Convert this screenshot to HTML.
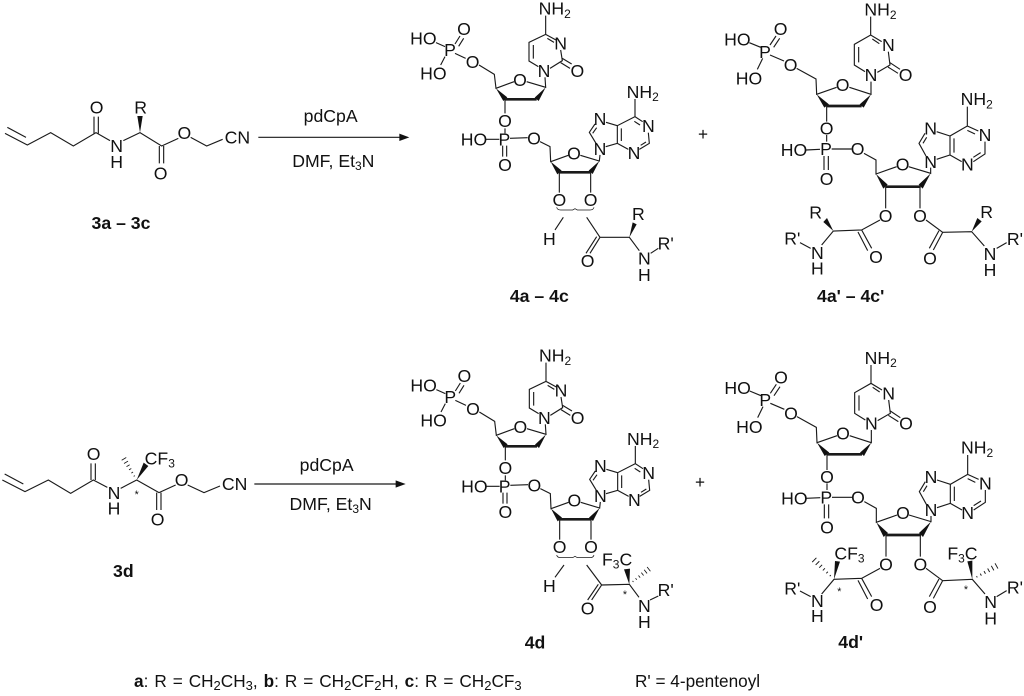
<!DOCTYPE html>
<html><head><meta charset="utf-8"><style>
html,body{margin:0;padding:0;background:#fff;width:1024px;height:696px;overflow:hidden}
svg{display:block}
text{font-family:"Liberation Sans",sans-serif;font-size:53px;fill:#111;text-anchor:middle;transform:translateY(2.5px)}
text.s{text-anchor:start;transform:translate(-3px,2.5px)}
text.b{font-weight:bold}
text.r{font-size:17.2px;text-anchor:start;transform:none}
tspan.u{font-size:36px}
path{fill:none;stroke:#1a1a1a;stroke-width:3.4}
path.bd{stroke-width:8}
path.br{stroke-width:2.2}
path.h{stroke-width:2.6}
polygon{fill:#111;stroke:none}
</style></head><body>
<svg width="1024" height="696" viewBox="0 0 1024 696" xmlns="http://www.w3.org/2000/svg">

<!-- 3a-3c -->
<g transform="translate(0,80) scale(.33333)">
<path d="M15 160L82 195L152 158L220 198L288 158L330 182M22 142L78 172M282 160V110M295 160V110M370 182L420 158L485 198L535 175M478 198V250M491 198V250M572 172L620 198L668 178M775 172H1202"/>
<polygon points="420,158 412,108 428,108"/>
<polygon points="1228,172 1198,161 1198,183"/>
<text x="290" y="98">O</text><text x="422" y="98">R</text><text x="350" y="214">N</text><text x="350" y="261">H</text><text x="482" y="296">O</text><text x="553" y="174">O</text><text x="712" y="188">CN</text>
<text x="992" y="124">pdCpA</text>
<text x="1000" y="258">DMF, Et<tspan class="u" dy="9">3</tspan><tspan dy="-9">N</tspan></text>
<text class="b" x="363" y="444">3a – 3c</text>
</g>

<!-- 3d -->
<g transform="translate(0,430) scale(.33333)">
<path d="M7 150L75 185L145 150L212 190L280 150L322 172M14 132L70 162M273 150V100M286 150V100M362 175L410 150L477 188L527 165M470 188V240M483 188V240M563 165L612 188L660 168M763 162H1192"/>
<polygon points="410,150 431,98 445,108"/>
<g transform="translate(410,150) rotate(-121)"><path class="h" d="M14 -2V2M26 -3V3M38 -4V4M50 -5.5V5.5M62 -7V7M74 -8V8"/></g>
<polygon points="1217,162 1187,151 1187,173"/>
<text x="281" y="88">O</text><text x="342" y="204">N</text><text x="342" y="251">H</text><text x="473" y="284">O</text><text x="545" y="166">O</text><text x="704" y="178">CN</text>
<text class="s" x="437" y="101">CF<tspan class="u" dy="9">3</tspan></text>
<text style="font-size:32px" x="410" y="202">*</text>
<text x="980" y="121">pdCpA</text>
<text x="992" y="238">DMF, Et<tspan class="u" dy="9">3</tspan><tspan dy="-9">N</tspan></text>
<text class="b" x="370" y="439">3d</text>
</g>

<!-- 4a-4c -->
<g transform="translate(400,0) scale(.33333)">
<g>
<path d="M108 128L135 140M165 132L180 108M176 139L191 115M135 170L122 195M165 160L197 175M237 195L283 223L288 265L342 245M380 245L437 262L435 232"/>
<polygon points="288,265 310,303 322,292"/><path class="bd" d="M315 298L410 298"/><polygon points="437,262 404,293 416,303"/>
<path d="M415 200L387 183L387 127L437 103L468 120M400 176L400 135M442 115L462 127M482 150L487 182L450 205M487 175L515 192M482 188L510 205M437 103L437 47"/>
<text x="70" y="131">HO</text><text x="192" y="103">O</text><text x="150" y="166">P</text><text x="100" y="236">HO</text><text x="218" y="201">O</text>
<text class="s" x="419" y="41">NH<tspan class="u" dy="10">2</tspan></text><text x="482" y="146">N</text><text x="432" y="228">N</text><text x="532" y="228">O</text><text x="360" y="256">O</text>
<path d="M315 298V340M315 385V400M258 418H298M308 437V470M320 437V470M330 415L383 413M420 425L450 440L452 485L505 466M541 466L598 483L600 465"/>
<polygon points="452,485 472,523 485,512"/><path class="bd" d="M478 517L572 517"/><polygon points="598,483 566,512 578,522"/>
<text x="315" y="379">O</text><text x="313" y="434">P</text><text x="222" y="434">HO</text><text x="315" y="511">O</text><text x="402" y="431">O</text><text x="522" y="476">O</text>
<path d="M617 440L652 430L685 448M718 448L748 430L745 398M722 436L738 426M728 365L705 350L652 377L652 430M720 375L703 364M664 385V423M652 377L618 367M585 372L568 397L588 430M590 383L578 400M705 350V297"/>
<text x="600" y="463">N</text><text x="600" y="373">N</text><text x="745" y="393">N</text><text x="702" y="474">N</text>
<text class="s" x="683" y="291">NH<tspan class="u" dy="10">2</tspan></text>
<path d="M478 517V578M572 517V578"/>
<text x="478" y="616">O</text><text x="572" y="616">O</text>
</g>
<path class="br" d="M470 622Q472 630 482 630H518L525 626L532 630H570Q580 630 582 622"/>
<path d="M490 652L465 690M560 652L600 712L688 712L718 752M600 712L570 760M590 710L558 760M752 760L775 745"/>
<polygon points="688,712 698,667 710,673"/>
<text x="448" y="733">H</text><text x="563" y="799">O</text><text x="715" y="658">R</text><text x="733" y="791">N</text><text x="733" y="841">H</text><text x="797" y="746">R'</text>
<text class="b" x="418" y="904">4a – 4c</text>
</g>

<!-- 4d -->
<g transform="translate(400,340) scale(.33333)">
<g transform="translate(1,21)">
<path d="M108 128L135 140M165 132L180 108M176 139L191 115M135 170L122 195M165 160L197 175M237 195L283 223L288 265L342 245M380 245L437 262L435 232"/>
<polygon points="288,265 310,303 322,292"/><path class="bd" d="M315 298L410 298"/><polygon points="437,262 404,293 416,303"/>
<path d="M415 200L387 183L387 127L437 103L468 120M400 176L400 135M442 115L462 127M482 150L487 182L450 205M487 175L515 192M482 188L510 205M437 103L437 47"/>
<text x="70" y="131">HO</text><text x="192" y="103">O</text><text x="150" y="166">P</text><text x="100" y="236">HO</text><text x="218" y="201">O</text>
<text class="s" x="419" y="41">NH<tspan class="u" dy="10">2</tspan></text><text x="482" y="146">N</text><text x="432" y="228">N</text><text x="532" y="228">O</text><text x="360" y="256">O</text>
<path d="M315 298V340M315 385V400M258 418H298M308 437V470M320 437V470M330 415L383 413M420 425L450 440L452 485L505 466M541 466L598 483L600 465"/>
<polygon points="452,485 472,523 485,512"/><path class="bd" d="M478 517L572 517"/><polygon points="598,483 566,512 578,522"/>
<text x="315" y="379">O</text><text x="313" y="434">P</text><text x="222" y="434">HO</text><text x="315" y="511">O</text><text x="402" y="431">O</text><text x="522" y="476">O</text>
<path d="M617 440L652 430L685 448M718 448L748 430L745 398M722 436L738 426M728 365L705 350L652 377L652 430M720 375L703 364M664 385V423M652 377L618 367M585 372L568 397L588 430M590 383L578 400M705 350V297"/>
<text x="600" y="463">N</text><text x="600" y="373">N</text><text x="745" y="393">N</text><text x="702" y="474">N</text>
<text class="s" x="683" y="291">NH<tspan class="u" dy="10">2</tspan></text>
<path d="M478 517V578M572 517V578"/>
<text x="478" y="616">O</text><text x="572" y="616">O</text>
</g>
<path class="br" d="M470 645Q472 653 482 653H518L525 649L532 653H570Q580 653 582 645"/>
<path d="M492 675L465 712M560 675L605 735L688 733L717 772M605 735L575 780M595 733L563 780M750 780L775 768"/>
<polygon points="688,733 672,688 690,686"/>
<g transform="translate(688,733) rotate(-38)"><path class="h" d="M14 -2V2M26 -3V3M38 -4V4M50 -5.5V5.5M62 -7V7M74 -8V8"/></g>
<text x="448" y="754">H</text><text x="563" y="821">O</text>
<text class="s" x="609" y="674">F<tspan class="u" dy="9">3</tspan><tspan dy="-9">C</tspan></text>
<text style="font-size:32px" x="675" y="772">*</text>
<text x="733" y="813">N</text><text x="733" y="861">H</text><text x="797" y="766">R'</text>
<text class="b" x="405" y="923">4d</text>
</g>

<!-- 4a'-4c' -->
<g transform="translate(720,0) scale(.33333)">
<path d="M88 128L122 142M150 135L168 108M161 142L179 115M128 175L112 208M150 165L192 183M230 205L288 237L290 283L350 262M388 262L453 283L453 245"/>
<polygon points="290,283 313,323 327,313"/><path class="bd" d="M320 318L425 318"/><polygon points="453,283 419,313 431,323"/>
<path d="M435 215L403 195L403 133L452 105L485 125M416 187V141M457 117L478 131M505 155L510 195L472 217M510 188L540 208M504 201L534 220M452 105V50"/>
<text x="52" y="134">HO</text><text x="182" y="103">O</text><text x="135" y="171">P</text><text x="87" y="251">HO</text><text x="212" y="211">O</text>
<text class="s" x="436" y="44">NH<tspan class="u" dy="10">2</tspan></text><text x="505" y="151">N</text><text x="453" y="241">N</text><text x="557" y="241">O</text><text x="368" y="271">O</text>
<path d="M320 318V365M320 405V425M258 450L300 448M312 468V510M325 468V510M335 447H395M432 460L468 480L468 522L530 500M566 500L632 520L632 503"/>
<polygon points="468,522 490,566 503,554"/><path class="bd" d="M497 560L602 560"/><polygon points="632,520 596,554 608,566"/>
<text x="320" y="401">O</text><text x="318" y="463">P</text><text x="222" y="466">HO</text><text x="320" y="553">O</text><text x="413" y="463">O</text><text x="548" y="509">O</text>
<path d="M650 478L690 465L725 485M760 485L795 462V425M760 472L782 458M775 393L742 378L690 408V465M765 402L742 391M702 415V458M690 408L650 395M615 400L597 430L618 468M620 412L609 430M742 378V320"/>
<text x="632" y="501">N</text><text x="632" y="401">N</text><text x="795" y="421">N</text><text x="742" y="509">N</text>
<text class="s" x="725" y="313">NH<tspan class="u" dy="10">2</tspan></text>
<path d="M497 560V625M600 560V625"/>
<text x="497" y="664">O</text><text x="600" y="664">O</text>
<path d="M480 660L425 690L340 693L305 735M425 690L455 745M414 696L443 752M272 745L240 728M618 660L668 697L755 695L793 738M668 697L640 750M657 692L628 745M830 745L860 728"/>
<polygon points="340,693 310,666 321,654"/><polygon points="755,695 772,654 785,664"/>
<text x="287" y="653">R</text><text x="468" y="786">O</text><text x="292" y="774">N</text><text x="292" y="821">H</text><text x="217" y="731">R'</text>
<text x="800" y="651">R</text><text x="630" y="791">O</text><text x="810" y="778">N</text><text x="810" y="826">H</text><text x="885" y="733">R'</text>
<text class="b" x="392" y="904">4a' – 4c'</text>
</g>

<!-- 4d' -->
<g transform="translate(720,340) scale(.33333)">
<g transform="translate(1,25)">
<path d="M88 128L122 142M150 135L168 108M161 142L179 115M128 175L112 208M150 165L192 183M230 205L288 237L290 283L350 262M388 262L453 283L453 245"/>
<polygon points="290,283 313,323 327,313"/><path class="bd" d="M320 318L425 318"/><polygon points="453,283 419,313 431,323"/>
<path d="M435 215L403 195L403 133L452 105L485 125M416 187V141M457 117L478 131M505 155L510 195L472 217M510 188L540 208M504 201L534 220M452 105V50"/>
<text x="52" y="134">HO</text><text x="182" y="103">O</text><text x="135" y="171">P</text><text x="87" y="251">HO</text><text x="212" y="211">O</text>
<text class="s" x="436" y="44">NH<tspan class="u" dy="10">2</tspan></text><text x="505" y="151">N</text><text x="453" y="241">N</text><text x="557" y="241">O</text><text x="368" y="271">O</text>
<path d="M320 318V365M320 405V425M258 450L300 448M312 468V510M325 468V510M335 447H395M432 460L468 480L468 522L530 500M566 500L632 520L632 503"/>
<polygon points="468,522 490,566 503,554"/><path class="bd" d="M497 560L602 560"/><polygon points="632,520 596,554 608,566"/>
<text x="320" y="401">O</text><text x="318" y="463">P</text><text x="222" y="466">HO</text><text x="320" y="553">O</text><text x="413" y="463">O</text><text x="548" y="509">O</text>
<path d="M650 478L690 465L725 485M760 485L795 462V425M760 472L782 458M775 393L742 378L690 408V465M765 402L742 391M702 415V458M690 408L650 395M615 400L597 430L618 468M620 412L609 430M742 378V320"/>
<text x="632" y="501">N</text><text x="632" y="401">N</text><text x="795" y="421">N</text><text x="742" y="509">N</text>
<text class="s" x="725" y="313">NH<tspan class="u" dy="10">2</tspan></text>
<path d="M497 560V625M600 560V625"/>
<text x="497" y="664">O</text><text x="600" y="664">O</text>
</g>
<path d="M480 685L425 715L342 718L305 762M425 715L455 770M414 721L443 777M272 770L240 753M618 685L668 722L757 718L795 762M668 722L640 775M657 717L628 770M830 770L860 752"/>
<polygon points="342,718 345,663 360,665"/>
<polygon points="757,718 742,664 757,662"/>
<g transform="translate(342,718) rotate(-135.5) scale(1.12)"><path class="h" d="M14 -2V2M26 -3V3M38 -4V4M50 -5.5V5.5M62 -7V7M74 -8V8"/></g>
<g transform="translate(757,718) rotate(-29) scale(1.12)"><path class="h" d="M14 -2V2M26 -3V3M38 -4V4M50 -5.5V5.5M62 -7V7M74 -8V8"/></g>
<text class="s" x="346" y="656">CF<tspan class="u" dy="9">3</tspan></text>
<text class="s" x="685" y="656">F<tspan class="u" dy="9">3</tspan><tspan dy="-9">C</tspan></text>
<text style="font-size:32px" x="358" y="762">*</text><text style="font-size:32px" x="738" y="757">*</text>
<text x="470" y="811">O</text><text x="292" y="798">N</text><text x="292" y="844">H</text><text x="217" y="761">R'</text>
<text x="630" y="816">O</text><text x="812" y="801">N</text><text x="812" y="851">H</text><text x="885" y="758">R'</text>
<text class="b" x="392" y="921">4d'</text>
</g>

<!-- plus signs -->
<text class="r" style="text-anchor:middle" x="703" y="140">+</text>
<text class="r" style="text-anchor:middle" x="700" y="488">+</text>

<!-- caption -->
<text class="r" style="word-spacing:1.2px" x="134" y="687"><tspan font-weight="bold">a</tspan>: R = CH<tspan font-size="13" dy="3">2</tspan><tspan dy="-3">CH</tspan><tspan font-size="13" dy="3">3</tspan><tspan dy="-3">, </tspan><tspan font-weight="bold">b</tspan>: R = CH<tspan font-size="13" dy="3">2</tspan><tspan dy="-3">CF</tspan><tspan font-size="13" dy="3">2</tspan><tspan dy="-3">H, </tspan><tspan font-weight="bold">c</tspan>: R = CH<tspan font-size="13" dy="3">2</tspan><tspan dy="-3">CF</tspan><tspan font-size="13" dy="3">3</tspan></text>
<text class="r" x="635" y="687">R' = 4-pentenoyl</text>
</svg>
</body></html>
